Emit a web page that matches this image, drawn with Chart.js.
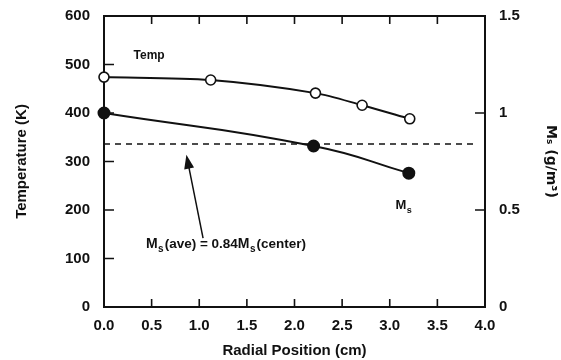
<!DOCTYPE html>
<html>
<head>
<meta charset="utf-8">
<script src="https://cdn.jsdelivr.net/npm/chart.js@4/dist/chart.umd.min.js"></script>
<style>
  html, body { margin: 0; padding: 0; background: #fff; }
  #wrap { width: 561px; height: 360px; }
</style>
</head>
<body>
<div id="wrap"><canvas id="myChart" width="561" height="360"></canvas></div>
<script>
// radial temperature and Ms profile
const radialTemp = [0, 1.12, 2.22, 2.71, 3.21];
const tempValues = [474, 468, 441, 416, 388];
const radialMs = [0, 2.2, 3.2];
const msValues = [1.0, 0.83, 0.69];
const msAvg = 0.84;
const avgRange = [0, 3.92];

const xMin = 0, xMax = 4, xStep = 0.5;
const tMin = 0, tMax = 600, tStep = 100;
const mMin = 0, mMax = 1.5, mStep = 0.5;

const fontFam = "'Liberation Sans', Arial, sans-serif";
const ink = '#111';

function pairs(xs, ys) {
    return xs.map((x, i) => ({ x: x, y: ys[i] }));
}

// frame with inward ticks, arrow and the text notes
const framePlugin = {
    id: 'frame',
    beforeDatasetsDraw(chart) {
        const ctx = chart.ctx;
        const a = chart.chartArea;
        const sx = chart.scales.x, sy = chart.scales.y, sy2 = chart.scales.y2;
        ctx.save();
        ctx.strokeStyle = ink;
        ctx.lineWidth = 2;
        ctx.strokeRect(a.left, a.top, a.right - a.left, a.bottom - a.top);
        ctx.lineWidth = 1.6;
        ctx.beginPath();
        sx.ticks.forEach(t => {
            if (t.value <= xMin || t.value >= xMax) return;
            const px = sx.getPixelForValue(t.value);
            ctx.moveTo(px, a.bottom); ctx.lineTo(px, a.bottom - 8);
            ctx.moveTo(px, a.top); ctx.lineTo(px, a.top + 8);
        });
        sy.ticks.forEach(t => {
            if (t.value <= tMin || t.value >= tMax) return;
            const py = sy.getPixelForValue(t.value);
            ctx.moveTo(a.left, py); ctx.lineTo(a.left + 10, py);
        });
        sy2.ticks.forEach(t => {
            if (t.value <= mMin || t.value >= mMax) return;
            const py = sy2.getPixelForValue(t.value);
            ctx.moveTo(a.right, py); ctx.lineTo(a.right - 10, py);
        });
        ctx.stroke();
        ctx.restore();
    },
    afterDraw(chart) {
        const ctx = chart.ctx;
        const sx = chart.scales.x, sy = chart.scales.y;
        ctx.save();
        ctx.fillStyle = ink;
        ctx.strokeStyle = ink;

        // arrow pointing at the dashed average line
        const x1 = sx.getPixelForValue(1.04), y1 = sy.getPixelForValue(142);
        const x2 = sx.getPixelForValue(0.865), y2 = sy.getPixelForValue(314);
        const ang = Math.atan2(y2 - y1, x2 - x1);
        ctx.lineWidth = 1.5;
        ctx.beginPath();
        ctx.moveTo(x1, y1);
        ctx.lineTo(x2 - 8 * Math.cos(ang), y2 - 8 * Math.sin(ang));
        ctx.stroke();
        ctx.beginPath();
        ctx.moveTo(x2, y2);
        ctx.lineTo(x2 - 14 * Math.cos(ang) + 5 * Math.sin(ang), y2 - 14 * Math.sin(ang) - 5 * Math.cos(ang));
        ctx.lineTo(x2 - 14 * Math.cos(ang) - 5 * Math.sin(ang), y2 - 14 * Math.sin(ang) + 5 * Math.cos(ang));
        ctx.closePath();
        ctx.fill();

        ctx.textBaseline = 'alphabetic';
        ctx.textAlign = 'left';
        ctx.font = 'bold 12px ' + fontFam;
        ctx.fillText('Temp', sx.getPixelForValue(0.31), sy.getPixelForValue(511));

        // M with subscript s
        function msText(x, y, size) {
            ctx.font = 'bold ' + size + 'px ' + fontFam;
            ctx.fillText('M', x, y);
            const w = ctx.measureText('M').width;
            ctx.font = 'bold ' + Math.round(size * 0.7) + 'px ' + fontFam;
            ctx.fillText('s', x + w + 0.5, y + 4);
            return x + w + 0.5 + ctx.measureText('s').width;
        }
        msText(sx.getPixelForValue(3.06), sy.getPixelForValue(203), 13);

        let px = sx.getPixelForValue(0.44), py = sy.getPixelForValue(122);
        px = msText(px, py, 14);
        ctx.font = 'bold 13.5px ' + fontFam;
        ctx.fillText('(ave) = 0.84', px + 1, py);
        px = px + 1 + ctx.measureText('(ave) = 0.84').width;
        px = msText(px, py, 14);
        ctx.font = 'bold 13.5px ' + fontFam;
        ctx.fillText('(center)', px + 1, py);
        ctx.restore();
    }
};

function fixVertical(width) {
    return (s) => {
        s.width = width;
        s.paddingTop = 0;
        s.paddingBottom = 0;
    };
}

const ctx = document.getElementById('myChart').getContext('2d');
const myChart = new Chart(ctx, {
    type: 'line',
    data: {
        datasets: [{
            label: 'Temp',
            data: pairs(radialTemp, tempValues),
            yAxisID: 'y',
            borderColor: ink,
            borderWidth: 2,
            tension: 0.3,
            pointRadius: 5,
            pointBorderWidth: 1.6,
            pointBackgroundColor: '#fff',
            pointBorderColor: ink,
            clip: false
        }, {
            label: 'Ms',
            data: pairs(radialMs, msValues),
            yAxisID: 'y2',
            borderColor: ink,
            borderWidth: 2,
            tension: 0.5,
            pointRadius: 5.5,
            pointBackgroundColor: ink,
            pointBorderColor: ink,
            clip: false
        }, {
            label: 'Ms avg',
            data: pairs(avgRange, [msAvg, msAvg]),
            yAxisID: 'y2',
            borderColor: ink,
            borderWidth: 1.5,
            borderDash: [6, 5],
            pointRadius: 0,
            clip: false
        }]
    },
    options: {
        responsive: false,
        animation: false,
        layout: { padding: { top: 16, left: 0, right: 0, bottom: 0 } },
        plugins: {
            legend: { display: false },
            tooltip: { enabled: false }
        },
        scales: {
            x: {
                type: 'linear',
                min: xMin, max: xMax,
                afterFit: (s) => { s.height = 53; },
                grid: { display: false, drawTicks: false },
                border: { display: false },
                ticks: {
                    stepSize: xStep, padding: 10, color: ink,
                    font: { family: fontFam, size: 15, weight: 'bold' },
                    maxRotation: 0,
                    callback: (v) => v.toFixed(1)
                },
                title: {
                    display: true, text: 'Radial Position (cm)', color: ink,
                    font: { family: fontFam, size: 15, weight: 'bold' },
                    padding: 0
                }
            },
            y: {
                position: 'left',
                min: tMin, max: tMax,
                afterFit: fixVertical(104),
                grid: { display: false, drawTicks: false },
                border: { display: false },
                ticks: {
                    stepSize: tStep, padding: 14, color: ink,
                    font: { family: fontFam, size: 15, weight: 'bold' }
                },
                title: {
                    display: true, text: 'Temperature (K)', color: ink,
                    font: { family: fontFam, size: 15, weight: 'bold' },
                    padding: { top: 13, bottom: 0 }
                }
            },
            y2: {
                position: 'right',
                min: mMin, max: mMax,
                afterFit: fixVertical(76),
                grid: { display: false, drawTicks: false },
                border: { display: false },
                ticks: {
                    stepSize: mStep, padding: 14, color: ink,
                    font: { family: fontFam, size: 15, weight: 'bold' },
                    callback: (v) => String(v)
                },
                title: {
                    display: true, text: 'M\u209B (g/m\u00B3)', color: ink,
                    font: { family: "'DejaVu Sans', sans-serif", size: 14, weight: 'bold' },
                    padding: { top: 2, bottom: 0 }
                }
            }
        }
    },
    plugins: [framePlugin]
});
</script>
</body>
</html>
